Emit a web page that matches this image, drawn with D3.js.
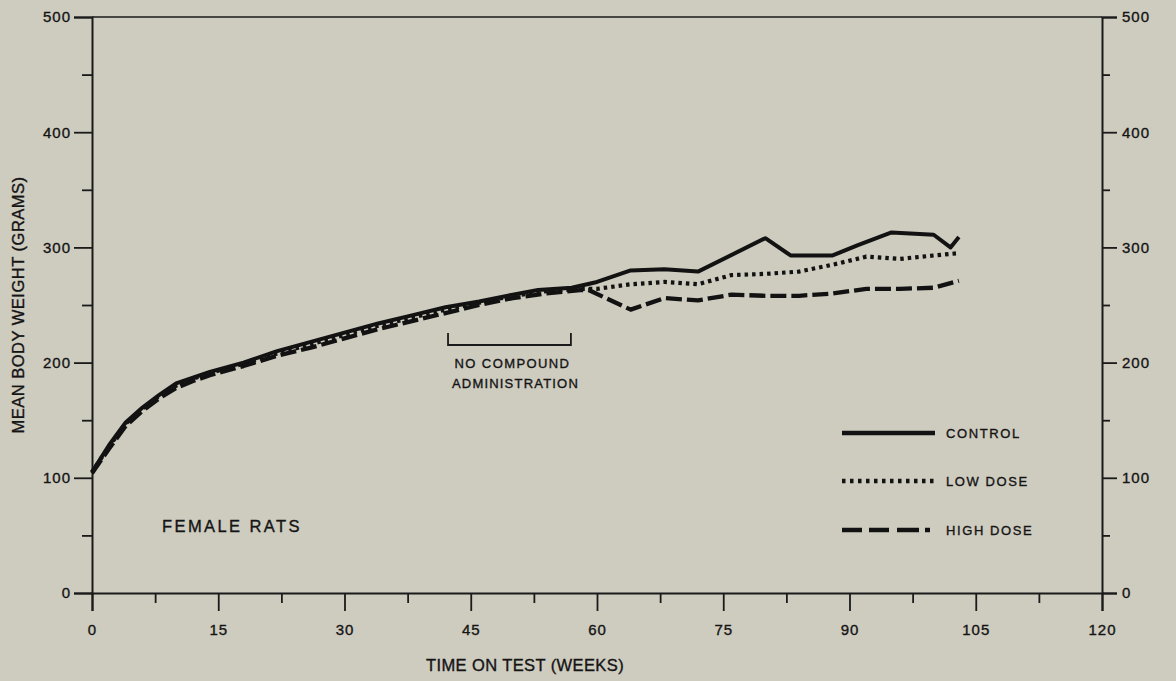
<!DOCTYPE html>
<html>
<head>
<meta charset="utf-8">
<script src="https://cdn.jsdelivr.net/npm/d3@7"></script>
<style>
  body { margin: 0; background: #cecbbf; }
  svg { display: block; }
  text { font-family: "Liberation Sans", Arial, sans-serif; fill: #141414; stroke: #141414; stroke-width: 0.35px; }
</style>
</head>
<body>
<div id="chart"></div>
<script>
// weeks on test and mean body weights (grams)
const controlWeeks = [0, 2, 4, 6, 8, 10, 12, 14, 18, 22, 26, 30, 34, 38, 42, 46, 50, 53, 57, 60, 64, 68, 72, 80, 83, 88, 91, 95, 100, 102, 103];
const controlWeights = [105, 128, 148, 161, 172, 182, 187, 192, 200, 210, 218, 226, 234, 241, 248, 253, 259, 263, 265, 270, 280, 281, 279, 308, 293, 293, 302, 313, 311, 300, 309];

const lowWeeks = [0, 2, 4, 6, 8, 10, 12, 14, 18, 22, 26, 30, 34, 38, 42, 46, 50, 54, 58, 60, 64, 68, 72, 76, 80, 84, 88, 92, 96, 100, 103];
const lowWeights = [105, 127, 147, 160, 171, 180, 186, 191, 199, 208, 216, 224, 232, 239, 246, 252, 258, 262, 264, 264, 268, 270, 268, 276, 277, 279, 285, 292, 290, 293, 295];

const highWeeks = [0, 2, 4, 6, 8, 10, 12, 14, 18, 22, 26, 30, 34, 38, 42, 46, 50, 54, 58, 59, 64, 68, 72, 76, 80, 84, 88, 92, 96, 100, 103];
const highWeights = [104, 125, 145, 158, 169, 178, 184, 189, 197, 206, 213, 221, 229, 236, 243, 250, 256, 260, 263, 263, 246, 256, 254, 259, 258, 258, 260, 264, 264, 265, 271];

const xTicks = [0, 15, 30, 45, 60, 75, 90, 105, 120];
const xMinorTicks = [7.5, 22.5, 37.5, 52.5, 67.5, 82.5, 97.5, 112.5];
const yTicks = [0, 100, 200, 300, 400, 500];
const yMinorTicks = [50, 150, 250, 350, 450];
const noCompound = [42.3, 56.9];

const seriesNames = ["CONTROL", "LOW DOSE", "HIGH DOSE"];

const width = 1176, height = 681;
const plotLeft = 92, plotRight = 1102, plotTop = 17, plotBottom = 593;

const svg = d3.select("#chart").append("svg")
  .attr("width", width).attr("height", height);

const x = d3.scaleLinear().domain([0, 120]).range([plotLeft, plotRight]);
const y = d3.scaleLinear().domain([0, 500]).range([plotBottom, plotTop]);

// frame top
svg.append("line")
  .attr("x1", plotLeft).attr("x2", plotRight).attr("y1", plotTop).attr("y2", plotTop)
  .attr("stroke", "#1a1a1a").attr("stroke-width", 1.5);

function styleAxis(g, w) {
  g.select(".domain").attr("stroke", "#1a1a1a").attr("stroke-width", w);
  g.selectAll(".tick line").attr("stroke", "#1a1a1a").attr("stroke-width", 1.8);
  g.selectAll("text").style("font-size", "15px").style("letter-spacing", "1px");
}

function minor(g) {
  g.select(".domain").remove();
  g.selectAll("line").attr("stroke", "#1a1a1a").attr("stroke-width", 1.8);
}

// bottom axis
const gx = svg.append("g").attr("transform", `translate(0,${plotBottom})`)
  .call(d3.axisBottom(x).tickValues(xTicks).tickSize(18).tickPadding(13).tickFormat(d3.format("d")));
styleAxis(gx, 2);
svg.append("g").attr("transform", `translate(0,${plotBottom})`)
  .call(d3.axisBottom(x).tickValues(xMinorTicks).tickSize(10).tickFormat(""))
  .call(minor);

// left axis
const gy = svg.append("g").attr("transform", `translate(${plotLeft},0)`)
  .call(d3.axisLeft(y).tickValues(yTicks).tickSize(18).tickPadding(3).tickFormat(d3.format("d")));
styleAxis(gy, 2);
svg.append("g").attr("transform", `translate(${plotLeft},0)`)
  .call(d3.axisLeft(y).tickValues(yMinorTicks).tickSize(10).tickFormat(""))
  .call(minor);

// right axis
const gr = svg.append("g").attr("transform", `translate(${plotRight},0)`)
  .call(d3.axisRight(y).tickValues(yTicks).tickSize(15).tickPadding(5).tickFormat(d3.format("d")));
styleAxis(gr, 2);
svg.append("g").attr("transform", `translate(${plotRight},0)`)
  .call(d3.axisRight(y).tickValues(yMinorTicks).tickSize(8).tickFormat(""))
  .call(minor);

// axis titles
svg.append("text")
  .attr("transform", `translate(24,${(plotTop + plotBottom) / 2}) rotate(-90)`)
  .attr("text-anchor", "middle")
  .style("font-size", "16.5px").style("letter-spacing", "0.5px")
  .text("MEAN BODY WEIGHT (GRAMS)");

svg.append("text")
  .attr("x", 525).attr("y", 671)
  .attr("text-anchor", "middle")
  .style("font-size", "16.5px").style("letter-spacing", "0.4px")
  .text("TIME ON TEST (WEEKS)");

// lines
const line = d3.line().x(d => x(d[0])).y(d => y(d[1]));
const zip = (a, b) => a.map((v, i) => [v, b[i]]);

const series = [
  { pts: zip(highWeeks, highWeights), dash: "16,5", w: 4.3 },
  { pts: zip(lowWeeks, lowWeights), dash: "3.5,4", w: 4.2 },
  { pts: zip(controlWeeks, controlWeights), dash: null, w: 4 },
];

svg.selectAll("path.series")
  .data(series)
  .enter().append("path")
  .attr("class", "series")
  .attr("d", d => line(d.pts))
  .attr("fill", "none")
  .attr("stroke", "#121212")
  .attr("stroke-width", d => d.w)
  .attr("stroke-dasharray", d => d.dash)
  .attr("stroke-linejoin", "round");

// no compound bracket
const bx0 = x(noCompound[0]), bx1 = x(noCompound[1]);
svg.append("path")
  .attr("d", `M${bx0},333 V345 H${bx1} V333`)
  .attr("fill", "none").attr("stroke", "#1a1a1a").attr("stroke-width", 1.8);
svg.append("text")
  .attr("x", (bx0 + bx1) / 2 + 3).attr("y", 368)
  .attr("text-anchor", "middle")
  .style("font-size", "13px").style("letter-spacing", "1.4px")
  .text("NO COMPOUND");
svg.append("text")
  .attr("x", (bx0 + bx1) / 2 + 6).attr("y", 388)
  .attr("text-anchor", "middle")
  .style("font-size", "13px").style("letter-spacing", "1.2px")
  .text("ADMINISTRATION");

// female rats label
svg.append("text")
  .attr("x", 162).attr("y", 532)
  .style("font-size", "16.5px").style("letter-spacing", "2.4px")
  .text("FEMALE RATS");

// legend
const legendY = [433, 481, 530];
const legendDash = [null, "3.5,4.5", "20,7,20,8,22,6,5,20"];
const lg = svg.append("g");
seriesNames.forEach((name, i) => {
  lg.append("line")
    .attr("x1", 842).attr("x2", 935)
    .attr("y1", legendY[i]).attr("y2", legendY[i])
    .attr("stroke", "#121212").attr("stroke-width", 4.3)
    .attr("stroke-dasharray", legendDash[i]);
  lg.append("text")
    .attr("x", 946).attr("y", legendY[i] + 5)
    .style("font-size", "13px").style("letter-spacing", "1.6px")
    .text(name);
});
</script>
</body>
</html>
